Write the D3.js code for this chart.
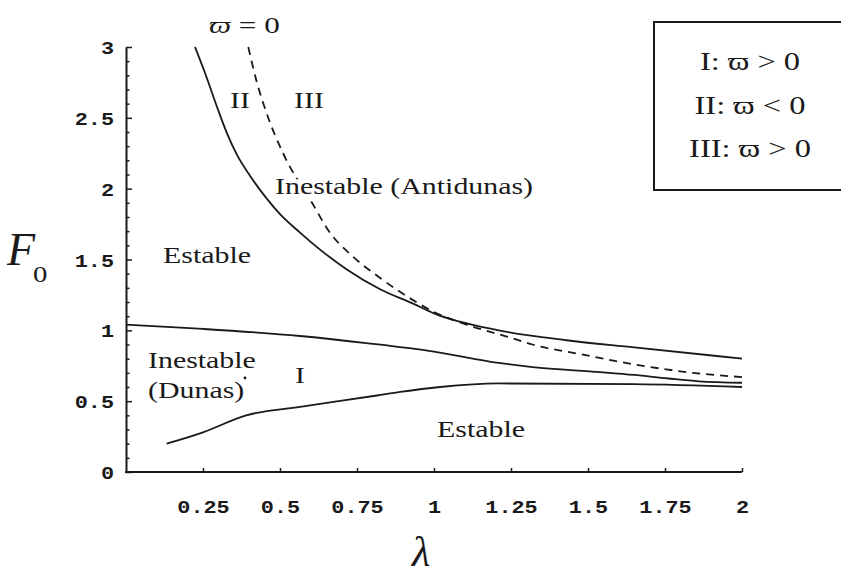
<!DOCTYPE html>
<html>
<head>
<meta charset="utf-8">
<script src="https://cdn.jsdelivr.net/npm/d3@7/dist/d3.min.js"></script>
<style>
  body { margin: 0; background: #fff; }
  svg { display: block; }
</style>
</head>
<body>
<svg id="chart" width="841" height="578"></svg>
<script>
// ---- data ----
const xTicks = [0.25, 0.5, 0.75, 1, 1.25, 1.5, 1.75, 2];
const xTickLabels = ["0.25", "0.5", "0.75", "1", "1.25", "1.5", "1.75", "2"];
const yTicks = [0, 0.5, 1, 1.5, 2, 2.5, 3];
const yTickLabels = ["0", "0.5", "1", "1.5", "2", "2.5", "3"];

// Upper solid boundary (stable / unstable antidunes)
const antiLambda = [0.224, 0.256, 0.295, 0.328, 0.36, 0.403, 0.457, 0.50, 0.565, 0.63, 0.717, 0.825, 0.93, 1.0, 1.21, 1.43, 1.65, 2.0];
const antiF      = [3.0, 2.82, 2.58, 2.39, 2.24, 2.09, 1.93, 1.82, 1.69, 1.57, 1.43, 1.29, 1.19, 1.12, 1.0, 0.93, 0.88, 0.80];

// Dashed curve  varpi = 0
const varpiLambda = [0.397, 0.425, 0.457, 0.51, 0.604, 0.662, 0.737, 0.825, 0.912, 1.0, 1.12, 1.247, 1.32, 1.48, 1.65, 1.84, 2.0];
const varpiF      = [3.0, 2.75, 2.53, 2.25, 1.90, 1.69, 1.52, 1.37, 1.24, 1.13, 1.03, 0.95, 0.90, 0.83, 0.76, 0.70, 0.67];

// Upper boundary of the dune region
const duneTopLambda = [0.0, 0.25, 0.565, 0.78, 1.0, 1.21, 1.32, 1.54, 1.65, 1.76, 1.86, 2.0];
const duneTopF      = [1.04, 1.01, 0.96, 0.91, 0.85, 0.77, 0.74, 0.705, 0.685, 0.66, 0.64, 0.63];

// Lower boundary of the dune region
const duneBotLambda = [0.132, 0.25, 0.39, 0.565, 0.815, 0.89, 1.02, 1.21, 1.65, 2.0];
const duneBotF      = [0.20, 0.28, 0.40, 0.46, 0.54, 0.565, 0.60, 0.625, 0.62, 0.60];

const legendLines = ["I: \u03D6 > 0", "II: \u03D6 < 0", "III: \u03D6 > 0"];

// ---- layout ----
const svg = d3.select("#chart");
const x = d3.scaleLinear().domain([0, 2]).range([126, 742]);
const y = d3.scaleLinear().domain([0, 3]).range([472, 47]);
const ink = "#1a1a1a";
const serif = "'Liberation Serif', 'Times New Roman', serif";
const mono = "'Liberation Mono', 'Courier New', monospace";
const SX = 1.3;

function txt(px, py, str, size, opts = {}) {
  const t = svg.append("text")
    .attr("transform", `translate(${px},${py}) scale(${opts.sx || SX},1)`)
    .attr("font-family", opts.family || serif)
    .attr("font-size", size)
    .attr("font-style", opts.italic ? "italic" : "normal")
    .attr("text-anchor", opts.anchor || "start")
    .attr("fill", ink);
  t.text(str);
  return t;
}

// ---- axes ----
const yAxisMajor = d3.axisLeft(y).tickValues(yTicks).tickSizeInner(-6).tickSizeOuter(0)
  .tickFormat((d, i) => yTickLabels[i]);
const gy = svg.append("g").attr("transform", `translate(${x(0)},0)`).call(yAxisMajor);
gy.select(".domain").attr("stroke", ink).attr("stroke-width", 2);
gy.selectAll(".tick line").attr("stroke", ink).attr("stroke-width", 1.5);
gy.selectAll(".tick text")
  .attr("x", 0).attr("dy", "0.35em")
  .attr("transform", `translate(-12,0) scale(1.15,1)`)
  .attr("font-family", mono).attr("font-size", 19).attr("font-weight", "bold")
  .attr("fill", ink).attr("text-anchor", "end");

const yMinor = d3.range(0, 3.001, 0.1).filter(v => Math.abs(v * 2 - Math.round(v * 2)) > 1e-6);
const gyMinor = svg.append("g").attr("transform", `translate(${x(0)},0)`)
  .call(d3.axisLeft(y).tickValues(yMinor).tickSizeInner(-3.5).tickSizeOuter(0).tickFormat(""));
gyMinor.select(".domain").remove();
gyMinor.selectAll(".tick line").attr("stroke", ink).attr("stroke-width", 1.5);

const xAxis = d3.axisBottom(x).tickValues(xTicks).tickSizeInner(-4).tickSizeOuter(0)
  .tickFormat((d, i) => xTickLabels[i]);
const gx = svg.append("g").attr("transform", `translate(0,${y(0)})`).call(xAxis);
gx.select(".domain").attr("stroke", ink).attr("stroke-width", 2)
  .attr("d", `M${x(0) - 1},0H${x(2)}`);
gx.selectAll(".tick line").attr("stroke", ink).attr("stroke-width", 1.5);
gx.selectAll(".tick text")
  .attr("y", 0).attr("dy", 0)
  .attr("transform", `translate(0,41) scale(1.15,1)`)
  .attr("font-family", mono).attr("font-size", 19).attr("font-weight", "bold")
  .attr("fill", ink).attr("text-anchor", "middle");

// ---- curves ----
const line = d3.line().x(d => x(d[0])).y(d => y(d[1])).curve(d3.curveMonotoneX);
const zip = (a, b) => a.map((v, i) => [v, b[i]]);

svg.append("path").datum(zip(varpiLambda, varpiF)).attr("d", line)
  .attr("fill", "none").attr("stroke", ink).attr("stroke-width", 1.8)
  .attr("stroke-dasharray", "8,6");
svg.append("path").datum(zip(duneTopLambda, duneTopF)).attr("d", line)
  .attr("fill", "none").attr("stroke", ink).attr("stroke-width", 1.8);
svg.append("path").datum(zip(duneBotLambda, duneBotF)).attr("d", line)
  .attr("fill", "none").attr("stroke", ink).attr("stroke-width", 1.8);

// ---- region labels (white halo behind the antidune label, as in the original) ----
const varpiLabel = txt(209, 33, "", 24);
varpiLabel.append("tspan").attr("font-style", "italic").text("\u03D6");
varpiLabel.append("tspan").text(" = 0");
txt(230, 108, "II", 23);
txt(294, 108, "III", 23);
txt(275, 194, "Inestable (Antidunas)", 23)
  .attr("stroke", "#fff").attr("stroke-width", 8).attr("paint-order", "stroke");

// solid antidune boundary drawn above the halo so it stays continuous
svg.append("path").datum(zip(antiLambda, antiF)).attr("d", line)
  .attr("fill", "none").attr("stroke", ink).attr("stroke-width", 1.8);

txt(163, 263, "Estable", 23);
txt(148, 368, "Inestable", 23);
txt(148, 398, "(Dunas)", 23);
svg.append("circle").attr("cx", 245).attr("cy", 378).attr("r", 1.4).attr("fill", ink);
txt(295, 383, "I", 23);
txt(437, 437, "Estable", 23);

// ---- legend box ----
svg.append("rect").attr("x", 654).attr("y", 22).attr("width", 200).attr("height", 168)
  .attr("fill", "none").attr("stroke", ink).attr("stroke-width", 2);
legendLines.forEach((s, i) => txt(750, 70 + i * 43.5, s, 26, { anchor: "middle", sx: 1.25 }));

// ---- axis titles ----
txt(7, 265, "F", 46, { italic: true, sx: 1 });
txt(33, 282, "0", 24, { sx: 1.2 });
txt(412, 566, "\u03BB", 42, { italic: true, sx: 1 });
</script>
</body>
</html>
